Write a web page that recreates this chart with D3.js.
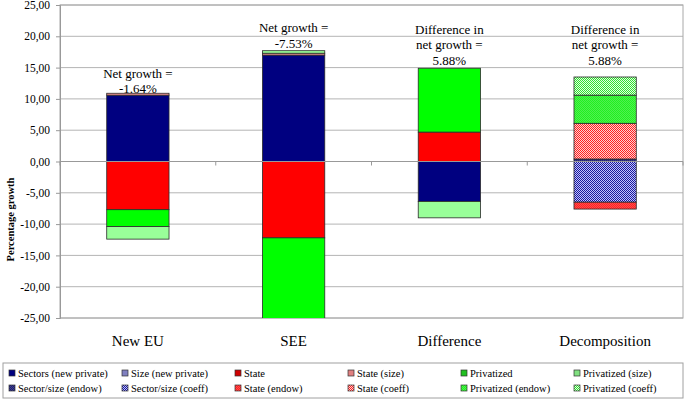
<!DOCTYPE html>
<html><head><meta charset="utf-8">
<script src="https://cdn.jsdelivr.net/npm/d3@7"></script>
<style>
body{margin:0;background:#fff}
svg{display:block}
</style>
</head><body>
<svg id="chart" width="685" height="401"></svg>
<script>
// ---------- data ----------
const categories = ["New EU", "SEE", "Difference", "Decomposition"];
const seriesNames = [
  "Sectors (new private)", "Size (new private)", "State", "State (size)", "Privatized", "Privatized (size)",
  "Sector/size (endow)", "Sector/size (coeff)", "State (endow)", "State (coeff)", "Privatized (endow)", "Privatized (coeff)"
];
const sectorsNewPrivate = [10.6, 17.0, -6.4, 0];
const sizeNewPrivate    = [0, 0, 0, 0];
const state             = [-7.7, -12.2, 4.7, 0];
const stateSize         = [0.3, 0.3, 0, 0];
const privatized        = [-2.7, -13.0, 10.2, 0];
const privatizedSize    = [-2.0, 0.4, -2.6, 0];
const sectorSizeEndow   = [0, 0, 0, 0.4];
const sectorSizeCoeff   = [0, 0, 0, -6.5];
const stateEndow        = [0, 0, 0, -1.1];
const stateCoeff        = [0, 0, 0, 5.7];
const privatizedEndow   = [0, 0, 0, 4.5];
const privatizedCoeff   = [0, 0, 0, 2.9];
const seriesValues = [sectorsNewPrivate, sizeNewPrivate, state, stateSize, privatized, privatizedSize,
  sectorSizeEndow, sectorSizeCoeff, stateEndow, stateCoeff, privatizedEndow, privatizedCoeff];
const yTicks = [25, 20, 15, 10, 5, 0, -5, -10, -15, -20, -25];
const annotationLines = [
  ["Net growth =", "-1.64%"],
  ["Net growth =", "-7.53%"],
  ["Difference in", "net growth =", "5.88%"],
  ["Difference in", "net growth =", "5.88%"]
];
const annotationAnchor = [11.6, 18.9, 16.2, 16.2];
const yTitle = "Percentage growth";

// ---------- layout ----------
const FONT = "'Liberation Serif', 'Times New Roman', serif";
const svg = d3.select("#chart").attr("font-family", FONT).style("font-family", FONT);
const plot = {left: 60, right: 683, top: 5, bottom: 318};

const x = d3.scaleBand().domain(categories).range([plot.left, plot.right]).paddingInner(0.6).paddingOuter(0.3);
const y = d3.scaleLinear().domain([-25, 25]).range([plot.bottom, plot.top]);
const fmt = d3.formatLocale({decimal: ",", thousands: ".", grouping: [3], currency: ["", ""], minus: "-"}).format(".2f");

// patterns
const defs = svg.append("defs");
function checker(id, c1, c2) {
  const p = defs.append("pattern").attr("id", id).attr("patternUnits", "userSpaceOnUse").attr("width", 2).attr("height", 2);
  p.append("rect").attr("width", 2).attr("height", 2).attr("fill", c2);
  p.append("rect").attr("width", 1).attr("height", 1).attr("fill", c1);
  p.append("rect").attr("x", 1).attr("y", 1).attr("width", 1).attr("height", 1).attr("fill", c1);
}
checker("pSSC", "#1a1a99", "#c0c0ff");
checker("pSTC", "#ff2020", "#ffd0d0");
checker("pPRC", "#30e030", "#e0ffe0");
checker("pSTE", "#ff2020", "#ff5050");
checker("pPRE", "#20f020", "#50f050");
checker("pSSE", "#202070", "#404090");

const colors = ["#000080", "#9999ff", "#ff0000", "#ff9999", "#00ff00", "#99ff99",
  "url(#pSSE)", "url(#pSSC)", "url(#pSTE)", "url(#pSTC)", "url(#pPRE)", "url(#pPRC)"];
const legendColors = ["#000080", "#8080c0", "#d00000", "#e08080", "#20c020", "#80e080",
  "url(#pSSE)", "url(#pSSC)", "url(#pSTE)", "url(#pSTC)", "url(#pPRE)", "url(#pPRC)"];

function serif(sel, size, weight) {
  sel.attr("font-family", FONT).style("font-family", FONT).style("font-size", size + "px").attr("fill", "#000");
  if (weight) sel.style("font-weight", weight);
  return sel;
}

// gridlines and frame
svg.append("g").selectAll("line").data(yTicks).join("line")
  .attr("x1", plot.left).attr("x2", plot.right)
  .attr("y1", d => y(d)).attr("y2", d => y(d))
  .attr("stroke", "#b4b4b4").attr("stroke-width", 1);
svg.append("rect").attr("x", plot.left).attr("y", plot.top)
  .attr("width", plot.right - plot.left).attr("height", plot.bottom - plot.top)
  .attr("fill", "none").attr("stroke", "#a8a8a8");

// y axis
const yAxis = svg.append("g").attr("transform", `translate(${plot.left},0)`)
  .call(d3.axisLeft(y).tickValues(yTicks).tickSize(4).tickPadding(6).tickFormat(fmt));
yAxis.attr("font-family", FONT);
yAxis.select(".domain").attr("stroke", "#999");
yAxis.selectAll(".tick line").attr("stroke", "#999");
serif(yAxis.selectAll(".tick text"), 11.5);

serif(svg.append("text").attr("transform", `translate(14,${(plot.top + plot.bottom) / 2 + 58}) rotate(-90)`)
  .attr("text-anchor", "middle").text(yTitle), 10.5, "bold");

// stacked bars
const table = categories.map((c, i) => {
  const row = {cat: c};
  seriesNames.forEach((s, j) => row[s] = seriesValues[j][i]);
  return row;
});
const stack = d3.stack().keys(seriesNames).offset(d3.stackOffsetDiverging)(table);

defs.append("clipPath").attr("id", "plotClip").append("rect")
  .attr("x", plot.left).attr("y", plot.top).attr("width", plot.right - plot.left).attr("height", plot.bottom - plot.top);

const bars = svg.append("g").attr("clip-path", "url(#plotClip)");
stack.forEach((layer, j) => {
  bars.append("g").selectAll("rect").data(layer.filter(d => d[1] - d[0] !== 0)).join("rect")
    .attr("x", d => x(d.data.cat))
    .attr("width", x.bandwidth())
    .attr("y", d => y(Math.max(d[0], d[1])))
    .attr("height", d => Math.abs(y(d[0]) - y(d[1])))
    .attr("fill", colors[j])
    .attr("stroke", "#2a2a2a").attr("stroke-width", 0.8);
});

// x axis at zero
const xAxisG = svg.append("g");
xAxisG.append("line").attr("x1", plot.left).attr("x2", plot.right).attr("y1", y(0)).attr("y2", y(0))
  .attr("stroke", "#999");
const bounds = d3.range(categories.length + 1).map(i => plot.left + i * x.step());
xAxisG.selectAll("line.tk").data(bounds).join("line").attr("class", "tk")
  .attr("x1", d => d).attr("x2", d => d).attr("y1", y(0)).attr("y2", y(0) + 4).attr("stroke", "#999");

// category labels
serif(svg.append("g").selectAll("text").data(categories).join("text")
  .attr("x", d => x(d) + x.bandwidth() / 2).attr("y", 346)
  .attr("text-anchor", "middle").text(d => d), 15);

// annotations
categories.forEach((c, i) => {
  const lines = annotationLines[i];
  const cx = x(c) + x.bandwidth() / 2;
  const lastY = y(annotationAnchor[i]) + 4.5;
  serif(svg.append("g").selectAll("text").data(lines).join("text")
    .attr("x", cx).attr("y", (d, k) => lastY - (lines.length - 1 - k) * 15.5)
    .attr("text-anchor", "middle").text(d => d), 13);
});

// legend
const lg = svg.append("g");
lg.append("rect").attr("x", 3).attr("y", 363).attr("width", 680).attr("height", 35)
  .attr("fill", "#fff").attr("stroke", "#a0a0a0");
const items = lg.selectAll("g").data(seriesNames).join("g")
  .attr("transform", (d, i) => `translate(${9 + (i % 6) * 113},${i < 6 ? 373 : 388})`);
items.append("rect").attr("x", 0).attr("y", -3).attr("width", 6).attr("height", 6)
  .attr("fill", (d, i) => legendColors[i]).attr("stroke", "#333").attr("stroke-width", 0.7);
serif(items.append("text").attr("x", 9).attr("y", 3.8).text(d => d), 10.5);
</script>
</body></html>
